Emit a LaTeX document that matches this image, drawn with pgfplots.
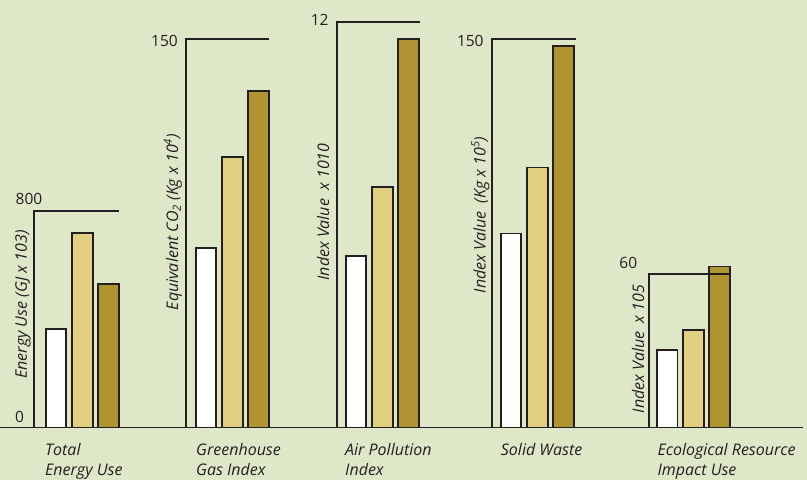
\documentclass[border=0pt]{standalone}
\usepackage{pgfplots}
\pgfplotsset{compat=1.18}
\usepackage{fontspec}
\setmainfont{Open Sans}
\definecolor{bg}{RGB}{223,231,201}
\definecolor{tan}{RGB}{224,207,128}
\definecolor{olive}{RGB}{176,148,50}
\definecolor{ink}{RGB}{35,31,32}
\pgfplotsset{
  grp/.style={anchor=south west, hide axis, clip=false, x=1pt, xmin=0, ymin=0, scale only axis},
  wbar/.style={ybar, bar width=20.5pt, bar shift=0pt, fill=white, draw=ink, line width=1.6pt},
  tbar/.style={ybar, bar width=20.5pt, bar shift=0pt, fill=tan, draw=ink, line width=1.6pt},
  obar/.style={ybar, bar width=20.5pt, bar shift=0pt, fill=olive, draw=ink, line width=1.6pt},
}
\newcommand{\catfont}{\fontsize{16}{19}\selectfont\itshape}
\newcommand{\labfont}{\fontsize{16}{18}\selectfont\itshape}
\newcommand{\numfont}{\fontsize{15.5}{18}\selectfont}
\begin{document}
\begin{tikzpicture}[x=1pt,y=1pt]
\fill[bg] (0,0) rectangle (807,480);
% ---- Group 1: Total Energy Use
\begin{axis}[grp, at={(34pt,52.5pt)}, xmax=85, ymax=800, y=0.270625pt]
\addplot[wbar] coordinates {(22,364)};
\addplot[tbar] coordinates {(48.5,719)};
\addplot[obar] coordinates {(74.5,530)};
\draw[ink, line width=1.8pt] (axis cs:0,0) -- (axis cs:0,800) -- (axis cs:85,800);
\end{axis}
% ---- Group 2: Greenhouse Gas Index
\begin{axis}[grp, at={(186pt,52.5pt)}, xmax=83, ymax=150, y=2.59pt]
\addplot[wbar] coordinates {(20,69.4)};
\addplot[tbar] coordinates {(46.5,104.4)};
\addplot[obar] coordinates {(72.5,129.9)};
\draw[ink, line width=1.8pt] (axis cs:0,0) -- (axis cs:0,150) -- (axis cs:83,150);
\end{axis}
% ---- Group 3: Air Pollution Index
\begin{axis}[grp, at={(336.7pt,52.5pt)}, xmax=83.3, ymax=12, y=33.79pt]
\addplot[wbar] coordinates {(19.3,5.08)};
\addplot[tbar] coordinates {(45.8,7.11)};
\addplot[obar] coordinates {(71.8,11.5)};
\draw[ink, line width=1.8pt] (axis cs:0,0) -- (axis cs:0,12) -- (axis cs:83.3,12);
\end{axis}
% ---- Group 4: Solid Waste
\begin{axis}[grp, at={(492.3pt,52.5pt)}, xmax=83.4, ymax=150, y=2.588pt]
\addplot[wbar] coordinates {(18.7,75)};
\addplot[tbar] coordinates {(45.2,100.4)};
\addplot[obar] coordinates {(71.2,147.5)};
\draw[ink, line width=1.8pt] (axis cs:0,0) -- (axis cs:0,150) -- (axis cs:83.4,150);
\end{axis}
% ---- Group 5: Ecological Resource Impact Use
\begin{axis}[grp, at={(649.3pt,52.5pt)}, xmax=81.7, ymax=60, y=2.5533pt]
\addplot[wbar] coordinates {(18,30.4)};
\addplot[tbar] coordinates {(44.2,38.1)};
\addplot[obar] coordinates {(70.2,63.0)};
\draw[ink, line width=1.8pt] (axis cs:0,0) -- (axis cs:0,60) -- (axis cs:81.7,60);
\end{axis}
% baseline
\draw[ink, line width=1.8pt] (0,52.5) -- (803,52.5);
% value labels
\begin{scope}[every node/.style={text=ink, inner sep=0pt, font=\numfont}]
\node at (29,281.3) {800};
\node at (19.5,63) {0};
\node at (164.5,439.5) {150};
\node at (319.7,459.7) {12};
\node at (470.3,439.2) {150};
\node at (628.3,217.5) {60};
\end{scope}
% axis titles
\begin{scope}[every node/.style={text=ink, inner sep=0pt, rotate=90, font=\labfont}]
\node at (23,175.5) {Energy Use (GJ x 103)};
\node at (173,258) {Equivalent CO\textsubscript{2} (Kg x 10\textsuperscript{4})};
\node at (323,268) {Index Value\ \ x 1010};
\node at (480.5,265) {Index Value\ \ (Kg x 10\textsuperscript{5})};
\node at (638,131) {Index Value\ \ x 105};
\end{scope}
% category labels
\begin{scope}[every node/.style={text=ink, inner sep=0pt, anchor=base west, font=\catfont}]
\node at (45,24) {Total};
\node at (45,5) {Energy Use};
\node at (196,24) {Greenhouse};
\node at (196,5) {Gas Index};
\node at (345,24) {Air Pollution};
\node at (345,5) {Index};
\node at (500.7,24) {Solid Waste};
\node at (657.3,24) {Ecological Resource};
\node at (657.3,5) {Impact Use};
\end{scope}
\pgfresetboundingbox
\useasboundingbox (0,0) rectangle (807,480);
\end{tikzpicture}
\end{document}
